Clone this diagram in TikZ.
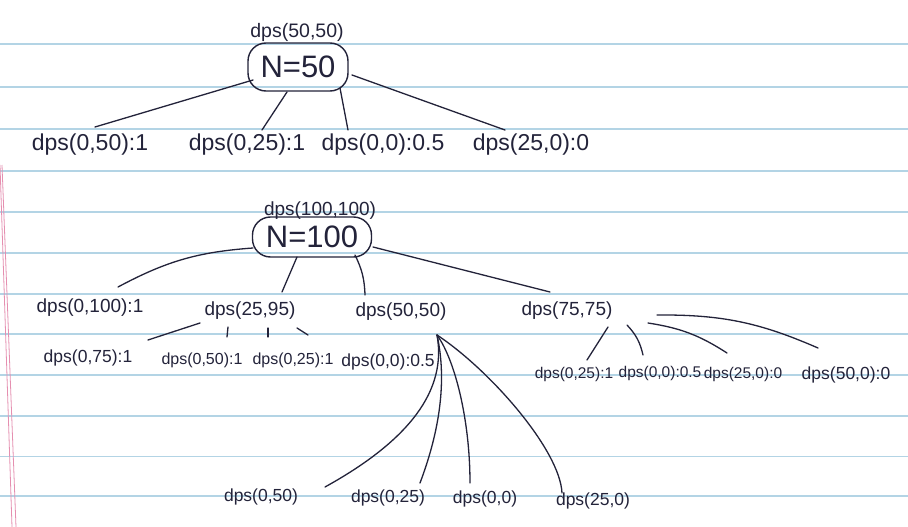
\documentclass[tikz,border=0pt]{standalone}
\usepackage{fontspec}
\setmainfont{Liberation Sans}
\usetikzlibrary{calc}
\definecolor{penink}{HTML}{23233A}
\definecolor{ruleblue}{HTML}{B3D4E5}
\definecolor{marginpink}{HTML}{E58FB0}
\tikzset{
  ink/.style={draw=penink, line width=1.3pt, line cap=round},
  lbl/.style={text=penink, inner sep=2pt, font=\fontsize{19}{19}\selectfont},
  biglbl/.style={lbl, font=\fontsize{23}{23}\selectfont},
  midlbl/.style={lbl, font=\fontsize{17.5}{17.5}\selectfont},
  smalllbl/.style={lbl, font=\fontsize{15.5}{15.5}\selectfont},
  nbox/.style={draw=penink, line width=1.4pt, rounded corners=18pt,
    text=penink, font=\fontsize{31}{31}\selectfont},
  rule/.style={draw=ruleblue, line width=1.2pt},
  margin/.style={draw=marginpink, line width=0.8pt}
}

\begin{document}
\begin{tikzpicture}[x=1pt,y=-1pt]
  % paper
  \fill[white] (0,0) rectangle (908,527);
  \useasboundingbox (0,0) rectangle (908,527);
  \foreach \y in {44,87,129,171,212,253,294,334,375,416,456.5,496}
    \draw[rule] (0,\y) -- (908,\y);
  \draw[margin] (0,165) -- (12,527);
  \draw[margin] (2,165) -- (16,527);

  % tree for N=50
  \node[lbl, font=\fontsize{19.5}{19.5}\selectfont] (t1) at (297,32) {dps(50,50)};
  \node[nbox, minimum width=100pt, minimum height=48pt] (r1) at (298,67) {N=50};
  \node[biglbl] (a1) at (90,145) {dps(0,50):1};
  \node[biglbl] (a2) at (247,145) {dps(0,25):1};
  \node[biglbl] (a3) at (383,145) {dps(0,0):0.5};
  \node[biglbl] (a4) at (531,145) {dps(25,0):0};
  \draw[ink] ($(r1)+(-45,13)$) -- ($(a1)+(5,-18)$);
  \draw[ink] ($(r1)+(-11,25)$) -- ($(a2)+(15,-15)$);
  \draw[ink] ($(r1)+(42,21)$) -- ($(a3)+(-35,-15)$);
  \draw[ink] ($(r1)+(54,8)$) -- ($(a4)+(-26,-15)$);

  % tree for N=100
  \node[lbl] (t2) at (320,211) {dps(100,100)};
  \node[nbox, minimum width=119pt, minimum height=40pt] (r2) at (312,237) {N=100};
  \node[lbl] (b1) at (90,308) {dps(0,100):1};
  \node[lbl] (b2) at (250,311) {dps(25,95)};
  \node[lbl] (b3) at (401,312) {dps(50,50)};
  \node[lbl] (b4) at (567,311) {dps(75,75)};
  \draw[ink] ($(r2)+(-59,11)$) to[bend right=12] ($(b1)+(28,-21)$);
  \draw[ink] ($(r2)+(-15,20)$) -- ($(b2)+(32,-19)$);
  \draw[ink] ($(r2)+(43,18)$) to[bend left=12] ($(b3)+(-36,-17)$);
  \draw[ink] ($(r2)+(61,10)$) -- ($(b4)+(-17,-19)$);

  % under dps(25,95)
  \node[midlbl] (c1) at (88,358) {dps(0,75):1};
  \node[lbl, font=\fontsize{16}{16}\selectfont] (c2) at (202,360) {dps(0,50):1};
  \node[lbl, font=\fontsize{16}{16}\selectfont] (c3) at (293,360) {dps(0,25):1};
  \node[midlbl] (c4) at (388,362) {dps(0,0):0.5};
  \draw[ink] ($(b2)+(-50,12)$) -- ($(c1)+(60,-18)$);
  \draw[ink] ($(b2)+(-22,16)$) -- ($(c2)+(25,-23)$);
  \draw[ink] ($(b2)+(18,17)$) -- ($(c3)+(-25,-23)$);
  \draw[ink] ($(b2)+(47,17)$) -- ($(c4)+(-80,-27)$);

  % under dps(75,75)
  \node[smalllbl] (d1) at (574,374) {dps(0,25):1};
  \node[smalllbl] (d2) at (660,373) {dps(0,0):0.5};
  \node[smalllbl] (d3) at (743,374) {dps(25,0):0};
  \node[midlbl] (d4) at (846,375) {dps(50,0):0};
  \draw[ink] ($(b4)+(41,16)$) -- ($(d1)+(13,-14)$);
  \draw[ink] ($(b4)+(60,14)$) to[bend left=15] ($(d2)+(-17,-18)$);
  \draw[ink] ($(b4)+(81,12)$) to[bend left=12] ($(d3)+(-16,-21)$);
  \draw[ink] ($(b4)+(90,4)$) to[bend left=12] ($(d4)+(-28,-27)$);

  % under dps(50,50)
  \node[midlbl] (e1) at (261,497) {dps(0,50)};
  \node[midlbl] (e2) at (388,498) {dps(0,25)};
  \node[midlbl] (e3) at (485,499) {dps(0,0)};
  \node[midlbl] (e4) at (593,501) {dps(25,0)};
  \coordinate (fan) at ($(b3)+(36,23)$);
  \draw[ink] (fan) .. controls (447,390) and (410,440) .. ($(e1)+(64,-10)$);
  \draw[ink] (fan) .. controls (447,380) and (440,430) .. ($(e2)+(32,-15)$);
  \draw[ink] (fan) .. controls (455,360) and (470,420) .. ($(e3)+(-15,-16)$);
  \draw[ink] (fan) .. controls (490,370) and (560,450) .. ($(e4)+(-31,-8)$);
\end{tikzpicture}
\end{document}
